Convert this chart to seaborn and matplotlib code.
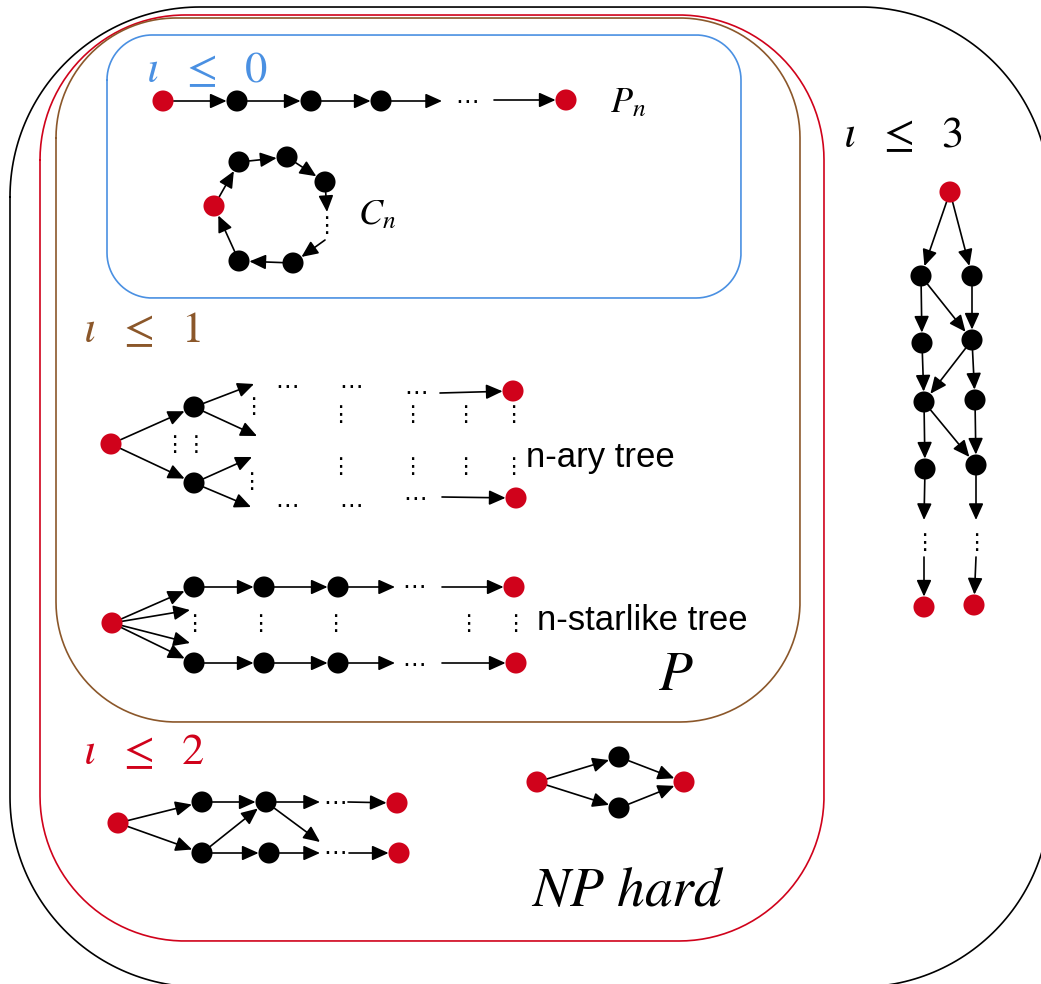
import numpy as np
import pandas as pd
import matplotlib.pyplot as plt
import seaborn as sns

sns.set_theme(style="white")
plt.rcParams["mathtext.fontset"] = "stix"

RED = "#d0021b"
BLUE = "#4a90e2"
BROWN = "#8b572a"

# nested classes: colour, left, top, right, bottom, corner radius (pixels, y down)
regions = [
    ("black", 10, 7, 1050, 987, 190),
    (RED, 40, 15, 824, 941, 145),
    (BROWN, 56, 18, 800, 722, 120),
    (BLUE, 107, 35, 741, 298, 45),
]

# graphs: name -> (x, y, kind); kind "end" = red node, "mid" = black node, "open" = arrow end only
path_nodes = {
    "p0": (163, 101, "end"), "p1": (237, 101, "mid"), "p2": (311, 101, "mid"),
    "p3": (381, 101, "mid"), "p4": (442, 101, "open"), "p5": (494, 100, "open"),
    "p6": (566, 100, "end"),
}
path_edges = [("p0", "p1"), ("p1", "p2"), ("p2", "p3"), ("p3", "p4"), ("p5", "p6")]

cycle_nodes = {
    "c0": (214, 206, "end"), "c1": (239, 162, "mid"), "c2": (287, 157, "mid"),
    "c3": (325, 182, "mid"), "c4": (327, 212, "open"), "c5": (325, 240, "open"),
    "c6": (293, 263, "mid"), "c7": (239, 261, "mid"),
}
cycle_edges = [("c0", "c1"), ("c1", "c2"), ("c2", "c3"), ("c3", "c4"),
               ("c5", "c6"), ("c6", "c7"), ("c7", "c0")]

nary_nodes = {
    "t0": (111, 444, "end"), "a": (194, 407, "mid"), "b": (194, 483, "mid"),
    "a1": (254, 384, "open"), "a2": (257, 436, "open"),
    "b1": (252, 457, "open"), "b2": (251, 507, "open"),
    "e1s": (440, 393, "open"), "e1": (513, 391, "end"),
    "e2s": (442, 497, "open"), "e2": (516, 498, "end"),
}
nary_edges = [("t0", "a"), ("t0", "b"), ("a", "a1"), ("a", "a2"), ("b", "b1"),
              ("b", "b2"), ("e1s", "e1"), ("e2s", "e2")]

star_nodes = {
    "r": (112, 623, "end"),
    "u1": (194, 587, "mid"), "u2": (264, 587, "mid"), "u3": (338, 587, "mid"),
    "u4": (395, 587, "open"), "u5": (442, 587, "open"), "u6": (514, 587, "end"),
    "d1": (194, 663, "mid"), "d2": (264, 663, "mid"), "d3": (338, 663, "mid"),
    "d4": (395, 663, "open"), "d5": (442, 663, "open"), "d6": (516, 663, "end"),
    "m1": (190, 610, "open"), "m2": (190, 643, "open"),
}
star_edges = [("r", "u1"), ("r", "m1"), ("r", "m2"), ("r", "d1"),
              ("u1", "u2"), ("u2", "u3"), ("u3", "u4"), ("u5", "u6"),
              ("d1", "d2"), ("d2", "d3"), ("d3", "d4"), ("d5", "d6")]

two_nodes = {
    "g0": (118, 823, "end"), "g1": (202, 802, "mid"), "g2": (202, 853, "mid"),
    "g3": (266, 802, "mid"), "g4": (269, 853, "mid"),
    "g5": (320, 802, "open"), "g6": (320, 842, "open"), "g7": (320, 853, "open"),
    "g8": (348, 802, "open"), "g9": (397, 803, "end"),
    "g10": (349, 853, "open"), "g11": (399, 853, "end"),
}
two_edges = [("g0", "g1"), ("g0", "g2"), ("g1", "g3"), ("g2", "g3"), ("g2", "g4"),
             ("g3", "g5"), ("g3", "g6"), ("g4", "g7"), ("g8", "g9"), ("g10", "g11")]

np_nodes = {
    "h0": (537, 782, "end"), "h1": (619, 757, "mid"),
    "h2": (619, 808, "mid"), "h3": (684, 782, "end"),
}
np_edges = [("h0", "h1"), ("h0", "h2"), ("h1", "h3"), ("h2", "h3")]

three_nodes = {
    "k0": (950, 192, "end"),
    "l1": (921, 276, "mid"), "l2": (922, 343, "mid"), "l3": (924, 402, "mid"), "l4": (925, 469, "mid"),
    "r1": (972, 276, "mid"), "r2": (972, 340, "mid"), "r3": (975, 400, "mid"), "r4": (976, 465, "mid"),
    "lo": (924, 520, "open"), "ro": (976, 520, "open"),
    "li": (924, 557, "open"), "ri": (976, 557, "open"),
    "lend": (924, 607, "end"), "rend": (974, 605, "end"),
}
three_edges = [("k0", "l1"), ("k0", "r1"), ("l1", "l2"), ("l1", "r2"), ("r1", "r2"),
               ("l2", "l3"), ("r2", "l3"), ("r2", "r3"), ("l3", "l4"), ("l3", "r4"),
               ("r3", "r4"), ("l4", "lo"), ("r4", "ro"), ("li", "lend"), ("ri", "rend")]

# ellipsis glyphs: text, x, y
dot_marks = [
    ("\u22ef", 467, 102), ("\u22ef", 287, 387), ("\u22ef", 351, 387), ("\u22ef", 416, 393),
    ("\u22ef", 287, 506), ("\u22ef", 351, 506), ("\u22ef", 415, 499),
    ("\u22ef", 414, 587), ("\u22ef", 414, 665), ("\u22ef", 335, 803), ("\u22ef", 335, 853),
    ("\u22ee", 326, 226), ("\u22ee", 253, 407), ("\u22ee", 251, 482),
    ("\u22ee\u22ee", 185, 445),
    ("\u22ee", 340, 415), ("\u22ee", 340, 467), ("\u22ee", 412, 415), ("\u22ee", 412, 467),
    ("\u22ee", 465, 415), ("\u22ee", 465, 467), ("\u22ee", 513, 415), ("\u22ee", 513, 467),
    ("\u22ee", 194, 624), ("\u22ee", 260, 624), ("\u22ee", 335, 624),
    ("\u22ee", 468, 624), ("\u22ee", 515, 624),
    ("\u22ee", 924, 543), ("\u22ee", 976, 543),
]

# labels: text, x, baseline y, colour, size
math_labels = [
    (r"$\iota\ \ \leq\ \ 0$", 146, 82, BLUE, 32),
    (r"$\iota\ \ \leq\ \ 3$", 843, 147, "black", 32),
    (r"$\iota\ \ \leq\ \ 1$", 83, 342, BROWN, 32),
    (r"$\iota\ \ \leq\ \ 2$", 83, 764, RED, 32),
    (r"$P_n$", 610, 112, "black", 26),
    (r"$C_n$", 358, 224, "black", 26),
    (r"$P$", 658, 690, "black", 40),
    (r"$NP\ hard$", 531, 906, "black", 40),
]
plain_labels = [
    ("n-ary tree", 526, 457),
    ("n-starlike tree", 537, 620),
]

graphs = [(path_nodes, path_edges), (cycle_nodes, cycle_edges), (nary_nodes, nary_edges),
          (star_nodes, star_edges), (two_nodes, two_edges), (np_nodes, np_edges),
          (three_nodes, three_edges)]


def rounded_outline(x0, y0, x1, y1, r, n=60):
    # corner arcs in y-down pixel space, clockwise from the top-left
    t = np.linspace(0, np.pi / 2, n)
    xs = np.concatenate([x0 + r - r * np.cos(t), x1 - r + r * np.sin(t),
                         x1 - r + r * np.cos(t), x0 + r - r * np.sin(t)])
    ys = np.concatenate([y0 + r - r * np.sin(t), y0 + r - r * np.cos(t),
                         y1 - r + r * np.sin(t), y1 - r + r * np.cos(t)])
    return np.append(xs, xs[0]), np.append(ys, ys[0])


fig = plt.figure(figsize=(10.41, 9.84), dpi=100)
ax = fig.add_axes([0, 0, 1, 1])

for color, x0, y0, x1, y1, rad in regions:
    xs, ys = rounded_outline(x0, y0, x1, y1, rad)
    ax.plot(xs, ys, color=color, lw=1.2, zorder=1)

NODE_R = 7.5  # node radius in points
for nodes, edges in graphs:
    for a, b in edges:
        xa, ya, ka = nodes[a]
        xb, yb, kb = nodes[b]
        ax.annotate("", xy=(xb, yb), xytext=(xa, ya),
                    arrowprops=dict(arrowstyle="-|>,head_length=10,head_width=4.5",
                                    mutation_scale=1, color="black", lw=1.2,
                                    shrinkA=0 if ka == "open" else NODE_R,
                                    shrinkB=0 if kb == "open" else NODE_R),
                    zorder=2)

rows = []
for nodes, _ in graphs:
    for name, (x, y, kind) in nodes.items():
        if kind != "open":
            rows.append({"x": x, "y": y, "kind": kind})
node_df = pd.DataFrame(rows)
sns.scatterplot(data=node_df, x="x", y="y", hue="kind",
                palette={"end": RED, "mid": "black"}, s=230, linewidth=0,
                legend=False, ax=ax, zorder=3)

for txt, x, y in dot_marks:
    ax.text(x, y, txt, ha="center", va="center",
            fontsize=17 if txt == "\u22ef" else 16,
            family="DejaVu Sans", color="black")

for txt, x, y, color, size in math_labels:
    ax.text(x, y, txt, ha="left", va="baseline", fontsize=size, color=color)
for txt, x, y in plain_labels:
    ax.text(x, y, txt, ha="left", va="center", fontsize=25,
            family="Liberation Sans", color="black")

ax.set_xlim(0, 1041)
ax.set_ylim(984, 0)
ax.axis("off")

fig.savefig("out.png", dpi=100)
